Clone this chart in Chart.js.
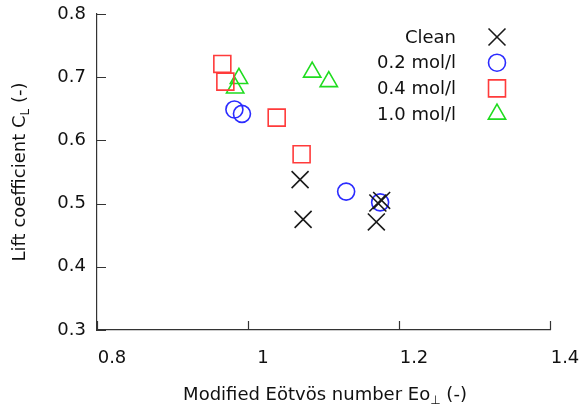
<!DOCTYPE html>
<html>
<head>
<meta charset="utf-8">
<script src="https://cdn.jsdelivr.net/npm/chart.js@4/dist/chart.umd.min.js"></script>
<style>
  html, body { margin: 0; padding: 0; background: #fff; }
  #wrap { width: 580px; height: 414px; }
</style>
</head>
<body>
<div id="wrap"><canvas id="chart" width="580" height="414"></canvas></div>
<script>
// ── Data ────────────────────────────────────────────────────
const seriesNames = ['Clean', '0.2 mol/l', '0.4 mol/l', '1.0 mol/l'];

const cleanX = [1.069, 1.073, 1.172, 1.177, 1.170];
const cleanY = [0.538, 0.475, 0.501, 0.505, 0.471];

const mol02X = [0.982, 0.992, 1.130, 1.175];
const mol02Y = [0.649, 0.642, 0.519, 0.502];

const mol04X = [0.966, 0.970, 1.038, 1.071];
const mol04Y = [0.721, 0.693, 0.636, 0.578];

const mol10X = [0.988, 0.983, 1.085, 1.107];
const mol10Y = [0.698, 0.683, 0.708, 0.693];

const xTicks = [0.8, 1, 1.2, 1.4];
const yTicks = [0.3, 0.4, 0.5, 0.6, 0.7, 0.8];

// ── Styling ─────────────────────────────────────────────────
const FONT = 'DejaVu Sans, Verdana, sans-serif';
const INK = '#111111';
const AXIS = '#333333';

const styles = [
  { color: '#1a1a1a', pointStyle: 'crossRot', radius: 12 },
  { color: '#2b2bff', pointStyle: 'circle', radius: 8.5 },
  { color: '#ff3b3b', pointStyle: 'rect', radius: 12 },
  { color: '#1fdc1f', pointStyle: 'triangle', radius: 10 },
];

const toPoints = (xs, ys) => xs.map((x, i) => ({ x, y: ys[i] }));
const seriesData = [
  toPoints(cleanX, cleanY),
  toPoints(mol02X, mol02Y),
  toPoints(mol04X, mol04Y),
  toPoints(mol10X, mol10Y),
];

const datasets = seriesNames.map((name, i) => ({
  label: name,
  data: seriesData[i],
  pointStyle: styles[i].pointStyle,
  pointRadius: styles[i].radius,
  pointHoverRadius: styles[i].radius,
  pointBorderColor: styles[i].color,
  pointBackgroundColor: 'rgba(0,0,0,0)',
  pointBorderWidth: 1.6,
  showLine: false,
  clip: false,
}));

// text with a subscript part, centred on (cx, cy), optionally rotated
function drawRich(ctx, parts, cx, cy, rotate) {
  const main = `18px ${FONT}`;
  const small = `12px ${FONT}`;
  let total = 0;
  parts.forEach(p => {
    ctx.font = p.sub ? small : main;
    p.w = ctx.measureText(p.t).width;
    total += p.w;
  });
  ctx.save();
  ctx.translate(cx, cy);
  if (rotate) ctx.rotate(-Math.PI / 2);
  ctx.fillStyle = INK;
  ctx.textBaseline = 'alphabetic';
  ctx.textAlign = 'left';
  let x = -total / 2;
  parts.forEach(p => {
    ctx.font = p.sub ? small : main;
    ctx.fillText(p.t, x, p.sub ? 10 : 6);
    x += p.w;
  });
  ctx.restore();
}

const decorations = {
  id: 'decorations',
  afterDraw(chart) {
    const { ctx, chartArea, scales } = chart;
    const tl = 9;

    // inward tick marks
    ctx.save();
    ctx.strokeStyle = AXIS;
    ctx.lineWidth = 1.2;
    ctx.beginPath();
    scales.x.ticks.forEach(t => {
      const px = Math.round(scales.x.getPixelForValue(t.value)) + 0.5;
      ctx.moveTo(px, chartArea.bottom);
      ctx.lineTo(px, chartArea.bottom - tl);
    });
    scales.y.ticks.forEach(t => {
      const py = Math.round(scales.y.getPixelForValue(t.value)) + 0.5;
      ctx.moveTo(chartArea.left, py);
      ctx.lineTo(chartArea.left + tl, py);
    });
    ctx.stroke();
    ctx.restore();

    // axis titles
    drawRich(ctx, [
      { t: 'Modified Eötvös number Eo' },
      { t: '⊥', sub: true },
      { t: ' (-)' },
    ], 325, 394, false);
    drawRich(ctx, [
      { t: 'Lift coefficient C' },
      { t: 'L', sub: true },
      { t: ' (-)' },
    ], 19, 172, true);

    // legend: right-aligned labels, marker to the right
    ctx.save();
    ctx.font = `18px ${FONT}`;
    ctx.textAlign = 'right';
    ctx.textBaseline = 'middle';
    chart.data.datasets.forEach((ds, i) => {
      const y = 37 + i * 25.7;
      ctx.fillStyle = INK;
      ctx.fillText(ds.label, 456, y + 1);
      ctx.strokeStyle = styles[i].color;
      ctx.fillStyle = 'rgba(0,0,0,0)';
      ctx.lineWidth = 1.6;
      Chart.helpers.drawPoint(ctx, {
        pointStyle: styles[i].pointStyle,
        radius: styles[i].radius,
        rotation: 0,
        borderWidth: 1.6,
      }, 497, y);
    });
    ctx.restore();
  },
};

new Chart(document.getElementById('chart'), {
  type: 'scatter',
  data: { datasets },
  plugins: [decorations],
  options: {
    responsive: false,
    animation: false,
    events: [],
    layout: { padding: { top: 14, right: 30, left: 0, bottom: 0 } },
    plugins: {
      legend: { display: false },
      tooltip: { enabled: false },
    },
    scales: {
      x: {
        type: 'linear',
        min: xTicks[0],
        max: xTicks[xTicks.length - 1],
        afterBuildTicks: s => { s.ticks = xTicks.map(v => ({ value: v })); },
        afterFit: s => { s.height = 84; s.paddingLeft = 0; s.paddingRight = 0; },
        grid: { drawOnChartArea: false, drawTicks: false },
        border: { color: AXIS, width: 1.2 },
        ticks: {
          color: INK,
          font: { family: FONT, size: 18 },
          padding: 18,
          labelOffset: 15,
          maxRotation: 0,
          callback: v => String(v),
        },
      },
      y: {
        type: 'linear',
        min: yTicks[0],
        max: yTicks[yTicks.length - 1],
        afterBuildTicks: s => { s.ticks = yTicks.map(v => ({ value: v })); },
        afterFit: s => { s.width = 97; s.paddingTop = 0; s.paddingBottom = 0; },
        grid: { drawOnChartArea: false, drawTicks: false },
        border: { color: AXIS, width: 1.2 },
        ticks: {
          color: INK,
          font: { family: FONT, size: 18 },
          padding: 11,
          callback: v => v.toFixed(1),
        },
      },
    },
  },
});
</script>
</body>
</html>
